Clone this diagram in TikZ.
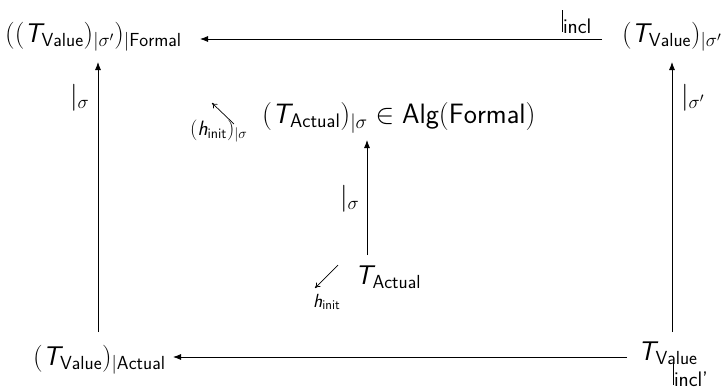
\RequirePackage{fix-cm}
\documentclass[tikz,border=0pt]{standalone}
\usepackage{amsmath}
\usepackage{fontspec}
\usetikzlibrary{arrows.meta}
\newcommand{\Tsl}{\text{\sffamily\slshape T}}
\newcommand{\hsl}{\text{\sffamily\slshape h}}
\newcommand{\restr}[1]{\rule[-3pt]{0.8pt}{22pt}\raisebox{-4pt}{\fontsize{21}{24}\selectfont\sffamily #1}}
\begin{document}
\begin{tikzpicture}[x=1pt,y=-1pt,
  lbl/.style={inner sep=0pt, font=\fontsize{27}{30}\selectfont},
  sm/.style={inner sep=0pt, font=\fontsize{19}{22}\selectfont},
  arr/.style={-{Latex[length=8pt,width=6pt]}, line width=0.8pt},
  small/.style={-{To[length=5pt,width=6pt]}, line width=0.7pt}]
\useasboundingbox (0,0) rectangle (725,389);
% main objects
\node[lbl, anchor=base west] (tl) at (5,42) {$((\Tsl_{\mathsf{Value}})_{|\sigma'})_{|\mathsf{Formal}}$};
\node[lbl, anchor=base east] (tr) at (722,42) {$(\Tsl_{\mathsf{Value}})_{|\sigma'}$};
\node[lbl, anchor=base west] (bl) at (33,365) {$(\Tsl_{\mathsf{Value}})_{|\mathsf{Actual}}$};
\node[lbl, anchor=base west] (br) at (638,360) {$\Tsl_{\mathsf{Value}}$};
\node[lbl, anchor=base west, font=\fontsize{28}{30}\selectfont] (cen) at (262,123) {$(\Tsl_{\mathsf{Actual}})_{|\sigma}\in\mathsf{Alg}(\mathsf{Formal})$};
\node[lbl, anchor=base west] (ta) at (355,284) {$\Tsl_{\mathsf{Actual}}$};
\node[sm, anchor=base west] (hi) at (313,307) {$\hsl_{\mathsf{init}}$};
\node[sm, anchor=base west, font=\fontsize{20.74}{24}\selectfont] (his) at (190,135) {$(\hsl_{\mathsf{init}})_{|\sigma}$};
% labels
\node[inner sep=0pt, anchor=base west] (l1) at (562,29) {\restr{incl}};
\node[inner sep=0pt, anchor=base west] (l2) at (673,382) {\restr{incl'}};
\node[lbl, anchor=base west] (l3) at (70,104) {$|_{\sigma}$};
\node[lbl, anchor=base west] (l4) at (681,104) {$|_{\sigma'}$};
\node[lbl, anchor=base west] (l5) at (340,205) {$|_{\sigma}$};
% coordinates
\coordinate (topR) at (602,39);
\coordinate (topL) at (200,39);
\coordinate (botR) at (627,357);
\coordinate (botL) at (173,357);
\coordinate (lB) at (98,332);
\coordinate (lT) at (98,62);
\coordinate (rB) at (672,332);
\coordinate (rT) at (672,62);
\coordinate (cB) at (367,255);
\coordinate (cT) at (367,140);
\coordinate (a1s) at (338,265);
\coordinate (a1e) at (315,288);
\coordinate (a2s) at (234,124);
\coordinate (a2e) at (212,103);
% arrows
\draw[arr] (topR) -- (topL);
\draw[arr] (botR) -- (botL);
\draw[arr] (lB) -- (lT);
\draw[arr] (rB) -- (rT);
\draw[arr] (cB) -- (cT);
\draw[small] (a1s) -- (a1e);
\draw[small] (a2s) -- (a2e);
\end{tikzpicture}
\end{document}
